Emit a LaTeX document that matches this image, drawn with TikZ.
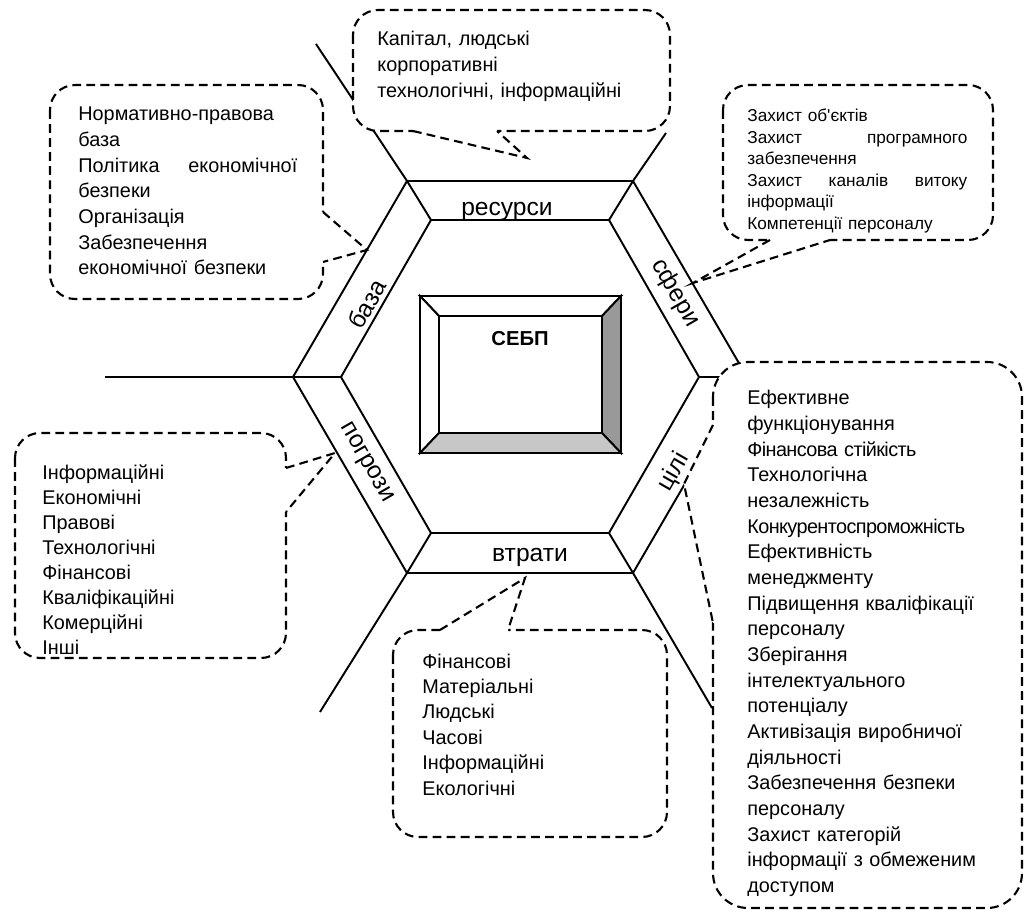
\documentclass[tikz,border=0pt]{standalone}
\usepackage{fontspec}
\setmainfont{Liberation Sans}
\usepackage{tikz}
\usetikzlibrary{calc}

\begin{document}
\begin{tikzpicture}[x=0.02cm, y=-0.02cm,
  hexline/.style={line width=1.1pt},
  callout/.style={draw, fill=white, line width=1.2pt, dash pattern=on 5pt off 3pt, rounded corners=0.5cm},
  pointer/.style={line width=1.2pt, dash pattern=on 5pt off 3pt},
  bandlabel/.style={font=\fontsize{14}{16}\selectfont, inner sep=0},
  listtext/.style={anchor=base west, inner sep=0, align=left}]

\useasboundingbox (0,0) rectangle (1025,915);

%// hexagon, outer and inner corners
\coordinate (o1) at (407,181);
\coordinate (o2) at (633,181);
\coordinate (o3) at (747,377);
\coordinate (o4) at (633,573);
\coordinate (o5) at (407,573);
\coordinate (o6) at (293,377);
\coordinate (i1) at (431,220);
\coordinate (i2) at (609,220);
\coordinate (i3) at (699,377);
\coordinate (i4) at (609,533);
\coordinate (i5) at (431,533);
\coordinate (i6) at (341,377);

\draw[hexline] (o1) -- (o2) -- (o3) -- (o4) -- (o5) -- (o6) -- cycle;
\draw[hexline] (i1) -- (i2) -- (i3) -- (i4) -- (i5) -- (i6) -- cycle;

%// rays from the corners
\foreach \k/\x/\y in {1/316/44, 2/666/133, 3/760/377, 4/712/708, 5/320/712, 6/105/377}
\draw[hexline] (i\k) -- (o\k) -- (\x,\y);

\foreach \lbl/\x/\y/\ang [count=\k] in {ресурси/507/211/0, сфери/675/293/-60, цілі/674/472/60, втрати/530/557/0, погрози/366/463/-60, база/367/304/60}
\node[bandlabel, rotate=\ang] (band\k) at (\x,\y) {\lbl};

%// centre box with bevel
\coordinate (a1) at (420,296);
\coordinate (a2) at (621,296);
\coordinate (a3) at (621,453);
\coordinate (a4) at (420,453);
\coordinate (b1) at (439,316);
\coordinate (b2) at (602,316);
\coordinate (b3) at (602,433);
\coordinate (b4) at (439,433);
\filldraw[hexline, fill=white] (a1) -- (a2) -- (b2) -- (b1) -- cycle;
\filldraw[hexline, fill=white] (a1) -- (b1) -- (b4) -- (a4) -- cycle;
\filldraw[hexline, fill=black!40] (a2) -- (a3) -- (b3) -- (b2) -- cycle;
\filldraw[hexline, fill=black!22] (a4) -- (b4) -- (b3) -- (a3) -- cycle;
\node[font=\bfseries\fontsize{11.5}{13}\selectfont] (sebp) at (520,339) {СЕБП};

%// callouts
\coordinate (restip) at (527,158);
\coordinate (sphtip) at (693,283);
\coordinate (goaltip) at (684,484);
\coordinate (losstip) at (525,578);
\coordinate (thrtip) at (335,453);
\coordinate (basetip) at (367,250);

% resources
\path[callout] (353,10) rectangle (670,131);
\fill[white] (413,131) -- (restip) -- (497,131) -- (497,128) -- (413,128) -- cycle;
\draw[pointer] (413,131) -- (restip) -- (497,131);
\node[listtext, font=\fontsize{11.3}{14.7}\selectfont, text width=6cm] (resources) at (377,46)
  {Капітал, людські\\корпоративні\\технологічні, інформаційні};

% base
\path[callout] (50,85) rectangle (323,299);
\fill[white] (323,212) -- (basetip) -- (323,262) -- (320,262) -- (320,212) -- cycle;
\draw[pointer] (323,212) -- (basetip) -- (323,262);
\node[listtext, font=\fontsize{11.3}{14.6}\selectfont, text width=4.38cm] (base) at (78,121)
  {Нормативно-правова\\база\\Політика\hfill економічної\\безпеки\\Організація\\Забезпечення\\економічної безпеки};

% spheres
\path[callout] (723,85) rectangle (993,240);
\fill[white] (770,240) -- (sphtip) -- (830,240) -- (830,237) -- (770,237) -- cycle;
\draw[pointer] (770,240) -- (sphtip) -- (830,240);
\node[listtext, font=\fontsize{9.8}{12.2}\selectfont, text width=4.4cm] (spheres) at (747,122)
  {Захист об\textquotesingle єктів\\Захист\hfill програмного\\забезпечення\\Захист\hfill каналів\hfill витоку\\інформації\\Компетенції персоналу};

% threats
\path[callout] (15,433) rectangle (286,658);
\fill[white] (286,468) -- (thrtip) -- (286,512) -- (283,512) -- (283,468) -- cycle;
\draw[pointer] (286,468) -- (thrtip) -- (286,512);
\node[listtext, font=\fontsize{11.3}{14.2}\selectfont, text width=4.6cm] (threats) at (42,480)
  {Інформаційні\\Економічні\\Правові\\Технологічні\\Фінансові\\Кваліфікаційні\\Комерційні\\Інші};

% losses
\path[callout] (393,630) rectangle (667,837);
\fill[white] (440,630) -- (losstip) -- (508,630) -- (508,633) -- (440,633) -- cycle;
\draw[pointer] (440,630) -- (losstip) -- (508,630);
\node[listtext, font=\fontsize{11.3}{14.5}\selectfont, text width=4.6cm] (losses) at (422,668)
  {Фінансові\\Матеріальні\\Людські\\Часові\\Інформаційні\\Екологічні};

% goals
\path[callout, rounded corners=0.7cm] (713,362) rectangle (1022,908);
\fill[white] (713,425) -- (goaltip) -- (713,623) -- (716,623) -- (716,425) -- cycle;
\draw[pointer] (713,425) -- (goaltip) -- (713,623);
\node[listtext, font=\fontsize{11.3}{14.6}\selectfont, text width=5.4cm] (goals) at (747,405)
  {Ефективне\\функціонування\\{\addfontfeatures{LetterSpace=-3}Фінансова стійкість}\\Технологічна\\незалежність\\{\addfontfeatures{LetterSpace=-3}Конкурентоспроможність}\\Ефективність\\менеджменту\\Підвищення кваліфікації\\персоналу\\Зберігання\\інтелектуального\\потенціалу\\Активізація виробничої\\діяльності\\Забезпечення безпеки\\персоналу\\Захист категорій\\інформації з обмеженим\\доступом};

\end{tikzpicture}
\end{document}
